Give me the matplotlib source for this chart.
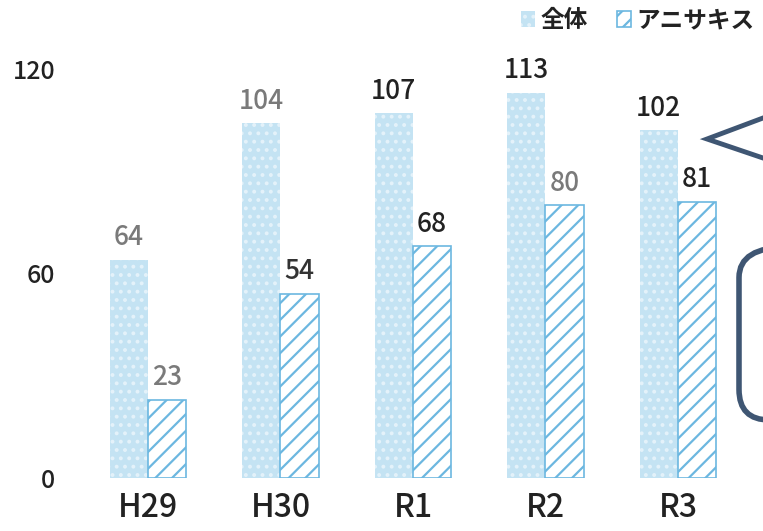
import matplotlib
matplotlib.use("Agg")
import matplotlib.pyplot as plt
from matplotlib.patches import FancyBboxPatch
from matplotlib.lines import Line2D
import numpy as np

plt.rcParams['font.family'] = ['Noto Sans CJK JP', 'DejaVu Sans']
plt.rcParams['hatch.linewidth'] = 1.6

categories = ['H29', 'H30', 'R1', 'R2', 'R3']
total = [64, 104, 107, 113, 102]
anisakis = [23, 54, 68, 80, 81]
series_names = ['全体', 'アニサキス']
yticks = [0, 60, 120]
total_label_colors = ['#7a7a7a', '#7a7a7a', '#222222', '#222222', '#222222']
anis_label_colors = ['#7a7a7a', '#333333', '#222222', '#7a7a7a', '#222222']

W, H = 763, 531
fig = plt.figure(figsize=(W / 100, H / 100), dpi=100)
ax = fig.add_axes([65 / W, 53 / H, 1 - 65 / W, 1 - 53 / H])

x = np.arange(len(categories))
bw = 0.288
b1 = ax.bar(x - bw / 2, total, bw, color='#c4e3f3', edgecolor='#e4f2fa',
            linewidth=0, hatch='..', label=series_names[0])
b2 = ax.bar(x + bw / 2, anisakis, bw, color='white', edgecolor='#6cb7e0',
            linewidth=1.2, hatch='//', label=series_names[1])

for i in range(len(categories)):
    ax.text(x[i] - bw / 2, total[i] + 2.5, str(total[i]), ha='center', va='bottom',
            fontsize=19, color=total_label_colors[i], fontweight='medium')
    ax.text(x[i] + bw / 2, anisakis[i] + 2.5, str(anisakis[i]), ha='center', va='bottom',
            fontsize=19, color=anis_label_colors[i], fontweight='medium')

ax.set_xlim(-0.626, 4.642)
ax.set_ylim(0, 140.2)
ax.set_xticks(x)
ax.set_xticklabels(categories, fontsize=23, color='#222222', fontweight='medium')
ax.set_yticks(yticks)
ax.set_yticklabels([str(v) for v in yticks], fontsize=18, color='#222222',
                   fontweight='medium')
ax.tick_params(length=0, axis='x', pad=10)
ax.tick_params(length=0, axis='y', pad=7)
for s in ax.spines.values():
    s.set_visible(False)

leg = fig.legend(handles=[b1, b2], loc='upper right', bbox_to_anchor=(1.0, 1.0),
                 ncol=2, frameon=False, fontsize=17, handlelength=0.6,
                 handleheight=0.7, handletextpad=0.25, columnspacing=1.2,
                 borderaxespad=0.15, borderpad=0.2)
for t in leg.get_texts():
    t.set_fontweight('bold')
    t.set_color('#222222')

# decorative speech-bubble shapes at right edge (partially cut off)
fig.add_artist(Line2D([763 / W, 707 / W, 763 / W],
                      [(H - 118) / H, (H - 139) / H, (H - 158) / H],
                      transform=fig.transFigure, color='#3f5673', lw=3.5,
                      solid_joinstyle='miter'))
fig.add_artist(FancyBboxPatch((739 / W, (H - 420) / H), 80 / W, 173 / H,
                              boxstyle='round,pad=0,rounding_size=0.04',
                              transform=fig.transFigure, fill=False,
                              edgecolor='#3f5673', lw=4, mutation_aspect=W / H))

fig.savefig('out.png', dpi=100)
